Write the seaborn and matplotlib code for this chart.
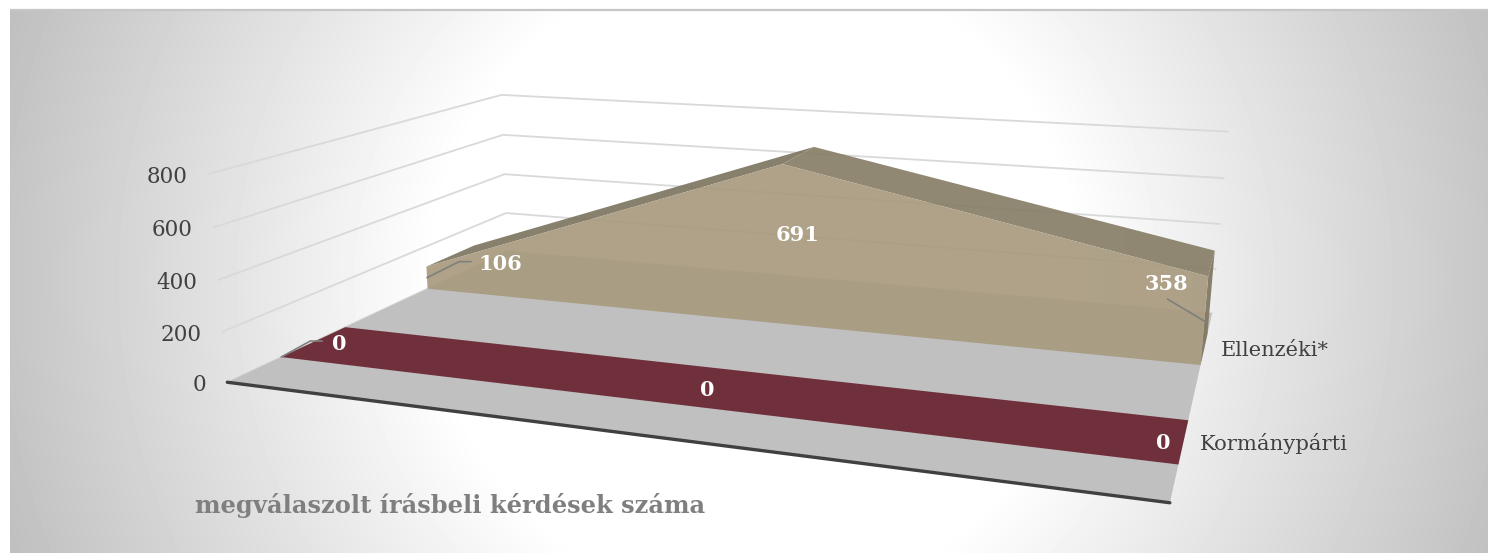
import numpy as np
import pandas as pd
import seaborn as sns
import matplotlib
matplotlib.use("Agg")
import matplotlib.pyplot as plt

categories = ["A", "B", "C"]
series_names = ["Kormánypárti", "Ellenzéki*"]
korm_values = [0, 0, 0]
ell_values = [106, 691, 358]
z_ticks = [0, 200, 400, 600, 800]
title_text = "megválaszolt írásbeli kérdések száma"

sns.set_theme(style="white")
plt.rcParams["font.family"] = ["DejaVu Serif"]

W, H = 1488, 553
fig = plt.figure(figsize=(W / 100, H / 100), dpi=100, facecolor="white")
ax = fig.add_axes([0, 0, 1, 1])
ax.set_xlim(0, W)
ax.set_ylim(H, 0)
ax.axis("off")

# Camera: projective fit of the chart's 3-D box corners onto the picture
box_calib = [
    (0, 0, 0, 227, 381), (1, 0, 0, 1170, 503), (0, 1, 0, 508, 252), (1, 1, 0, 1212, 313),
    (0, 0, 800, 209, 174), (0, 1, 800, 501.7, 94.3), (1, 1, 800, 1228, 131.7),
    (0, 0, 400, 218, 281), (0, 1, 400, 504, 174.3), (1, 1, 400, 1220, 224),
]
A = []
for u, v, z, px, py in box_calib:
    s = z / 800
    A.append([u, v, s, 1, 0, 0, 0, 0, -px * u, -px * v, -px * s, -px])
    A.append([0, 0, 0, 0, u, v, s, 1, -py * u, -py * v, -py * s, -py])
P = np.linalg.svd(np.array(A, float))[2][-1].reshape(3, 4)


def proj(u, v, z):
    h = P @ np.array([u, v, z / 800, 1.0])
    return h[0] / h[2], h[1] / h[2]


# Panel background: circular gradient, white in the middle
yy, xx = np.mgrid[9:H, 10:W]
r = np.hypot(xx - 755, yy - 280)
t = np.clip((r - 320) / (793 - 320), 0, 1)
ax.imshow(255 - 64 * t, cmap="gray", vmin=0, vmax=255, extent=(10, W, H, 9),
          aspect="auto", interpolation="bilinear", zorder=0)
ax.set_xlim(0, W)
ax.set_ylim(H, 0)
ax.plot([10, W], [9.5, 9.5], color="#c6c6c6", lw=1.6, zorder=1, solid_capstyle="butt")

# Wall gridlines
for z in z_ticks:
    pts = [proj(0, 0, z), proj(0, 1, z), proj(1, 1, z)]
    df = pd.DataFrame(pts, columns=["x", "y"])
    sns.lineplot(data=df, x="x", y="y", sort=False, estimator=None, color="#d9d9d9", lw=1.3, ax=ax, zorder=2)
ax.set_xlabel("")
ax.set_ylabel("")

# Floor
ax.fill(*zip(proj(0, 0, 0), proj(1, 0, 0), proj(1, 1, 0), proj(0, 1, 0)), color="#c0c0c0", lw=0, zorder=3)
front = pd.DataFrame([proj(0, 0, 0), proj(1, 0, 0)], columns=["x", "y"])
sns.lineplot(data=front, x="x", y="y", sort=False, estimator=None, color="#404040", lw=2.4, ax=ax, zorder=8)
ax.set_xlabel("")
ax.set_ylabel("")


def area(vals, v0, v1, face, top_l, top_r, side, alpha=0.9, z=4):
    us = np.linspace(0, 1, len(vals))
    # right side
    ax.fill(*zip(proj(1, v0, 0), proj(1, v0, vals[-1]), proj(1, v1, vals[-1]), proj(1, v1, 0)),
            color=side, alpha=alpha, lw=0, zorder=z)
    # top faces: one polygon per run of points, so a flat series has no seam
    if max(vals) == min(vals):
        idx = [0, len(vals) - 1]
    else:
        idx = list(range(len(vals)))
    for a, b in zip(idx[:-1], idx[1:]):
        col = top_l if vals[b] > vals[a] else top_r
        ax.fill(*zip(proj(us[a], v0, vals[a]), proj(us[b], v0, vals[b]),
                     proj(us[b], v1, vals[b]), proj(us[a], v1, vals[a])),
                color=col, alpha=alpha, lw=0, zorder=z)
    # front face
    poly = [proj(u, v0, 0) for u in (0, 1)] + [proj(u, v0, val) for u, val in zip(us[::-1], vals[::-1])]
    ax.fill(*zip(*poly), color=face, alpha=alpha, lw=0, zorder=z + 0.5)


area(ell_values, 0.65, 0.85, "#a89a7f", "#7d7560", "#877e67", "#7f7660", alpha=0.92)
area(korm_values, 0.15, 0.35, "#6f303c", "#6f303c", "#6f303c", "#6f303c", alpha=1.0, z=6)


def leader(origin, offsets):
    x0, y0 = origin
    df = pd.DataFrame([(x0 + dx, y0 + dy) for dx, dy in offsets], columns=["x", "y"])
    sns.lineplot(data=df, x="x", y="y", sort=False, estimator=None, color="#7f7f7f", lw=1.2, ax=ax, zorder=9)
    ax.set_xlabel("")
    ax.set_ylabel("")


leader(proj(0, 0.65, ell_values[0] / 2), [(0, 0), (32, -16), (44, -16)])
leader(proj(0, 0.15, 0), [(0, 0), (29, -16), (41, -16)])
leader(proj(1, 0.65, ell_values[2] / 2), [(0, 0), (-37, -22)])

# Data labels
lab = dict(color="white", fontweight="bold", fontsize=15, ha="center", va="center", zorder=10)
ax.text(500, 264, str(ell_values[0]), **lab)
ax.text(798, 235, str(ell_values[1]), **lab)
ax.text(1166, 284, str(ell_values[2]), **lab)
ax.text(339, 344, str(korm_values[0]), **lab)
ax.text(707, 390, str(korm_values[1]), **lab)
ax.text(1163, 443, str(korm_values[2]), **lab)

# Value axis labels
for z in z_ticks:
    x, y = proj(0, 0, z)
    ax.text(x - 21, y + 3, str(z), color="#404040", fontsize=15.5, ha="right", va="center", zorder=10)

# Series labels
ax.text(1221, 351, series_names[1], color="#404040", fontsize=15, ha="left", va="center", zorder=10)
ax.text(1200, 443, series_names[0], color="#404040", fontsize=15.2, ha="left", va="center", zorder=10)

# Title
ax.text(195, 505, title_text, color="#7f7f7f", fontsize=17.4, fontweight="bold", ha="left", va="center", zorder=10)

fig.savefig("out.png", dpi=100)
